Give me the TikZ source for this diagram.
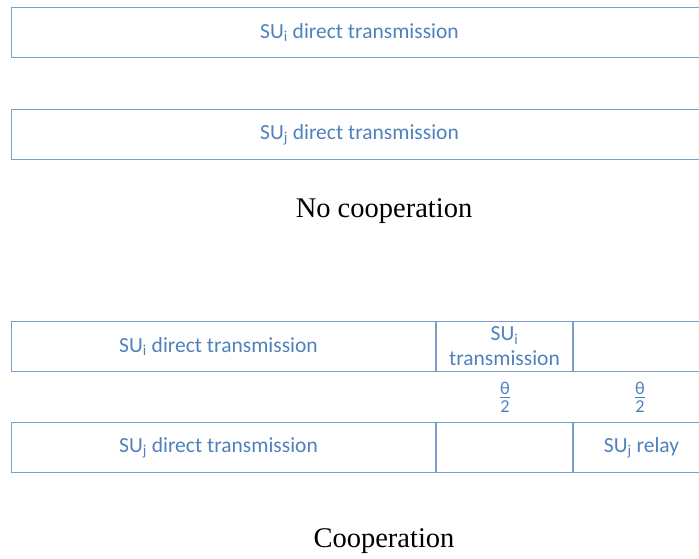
\documentclass[tikz,border=0pt]{standalone}
\usepackage{fontspec}
\setmainfont{Liberation Serif}
\newfontfamily\slotfont{Carlito}
\usepackage{amsmath}
\usetikzlibrary{positioning}
\definecolor{slotblue}{RGB}{79,129,189}
\definecolor{slotline}{RGB}{120,158,204}
\tikzstyle{slot} = [draw=slotline, line width=1pt, rectangle, minimum height=50pt, inner sep=0pt, text=slotblue, font=\slotfont\fontsize{21.5}{24}\selectfont, align=center, anchor=north west]
\tikzstyle{caption} = [font=\fontsize{28.5}{31}\selectfont, text=black]
\tikzstyle{half} = [text=slotblue, font=\slotfont\fontsize{26}{27}\selectfont, inner sep=1pt]

\begin{document}
\begin{tikzpicture}[x=1pt,y=-1pt]
            \useasboundingbox (0,0) rectangle (699,559);
            \clip (0,0) rectangle (699,559);
            % no cooperation
            \node(di)[slot, minimum width=696pt] at (11,7) {SU\textsubscript{i} direct transmission};
            \node(dj)[slot, minimum width=696pt] at (11,109) {SU\textsubscript{j} direct transmission};
            \node(nc)[caption] at (384,211) {No cooperation};
            % cooperation
            \node(ci)[slot, minimum width=424pt] at (11,321) {SU\textsubscript{i} direct transmission\hspace*{10pt}};
            \node(ti)[slot, minimum width=136pt, font=\slotfont\fontsize{21.5}{25}\selectfont] at (ci.north east) {SU\textsubscript{i}\\transmission};
            \node(ei)[slot, minimum width=136pt] at (ti.north east) {};
            \node(cj)[slot, minimum width=424pt] at (11,422) {SU\textsubscript{j} direct transmission\hspace*{10pt}};
            \node(ej)[slot, minimum width=136pt] at (cj.north east) {};
            \node(rj)[slot, minimum width=136pt] at (ej.north east) {SU\textsubscript{j} relay};
            \node(h1)[half] at (505,397) {$\frac{\text{θ}}{\text{2}}$};
            \node(h2)[half] at (640,397) {$\frac{\text{θ}}{\text{2}}$};
            \node(co)[caption] at (384,541) {Cooperation};
        \end{tikzpicture}
\end{document}
